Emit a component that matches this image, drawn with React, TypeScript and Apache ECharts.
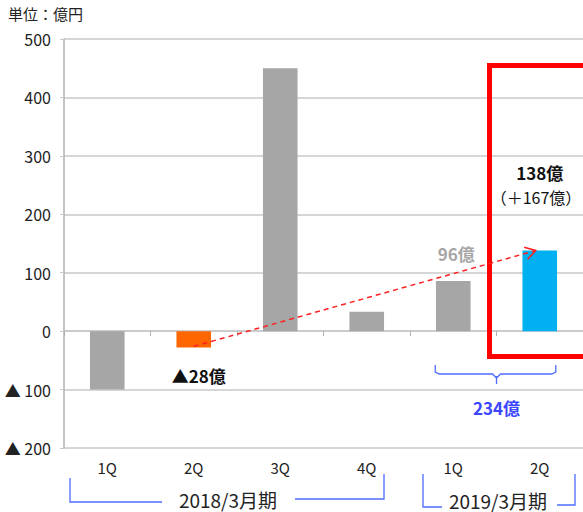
import React, { useEffect, useRef } from "react";
import * as echarts from "echarts";

const categories = ["1Q", "2Q", "3Q", "4Q", "1Q", "2Q"];
const values = [-100, -28, 450, 33, 86, 138];
const barColors = ["#a6a6a6", "#ff6600", "#a6a6a6", "#a6a6a6", "#a6a6a6", "#00b0f0"];
const yTicks = { min: -200, max: 500, interval: 100 };
const unitLabel = "単位：億円";
const fyLabels = ["2018/3月期", "2019/3月期"];
const noteTexts = { q2Loss: "▲28億", prev: "96億", current: "138億", diff: "（＋167億）", half: "234億" };

const FONT = "'Noto Sans CJK JP', 'Noto Sans', sans-serif";
const BLUE = "#4f6cff";
const BLUE_TEXT = "#3a46ff";

export default function App() {
  const ref = useRef<HTMLDivElement>(null);
  useEffect(() => {
    const chart = echarts.init(ref.current!, null, { renderer: "svg" });
    const option: any = {
      animation: false,
      textStyle: { fontFamily: FONT },
      grid: { left: 64, right: -1, top: 39, bottom: 64 },
      xAxis: [
        {
          type: "category",
          data: categories,
          position: "bottom",
          axisLine: { show: false, onZero: false },
          axisTick: { show: false },
          axisLabel: { color: "#222", fontSize: 15, margin: 12, fontFamily: FONT },
        },
        {
          type: "category",
          data: categories,
          position: "bottom",
          axisLine: { show: true, onZero: true, lineStyle: { color: "#c8c8c8", width: 1.5 } },
          axisTick: { show: true, length: 5, lineStyle: { color: "#b0b0b0" } },
          axisLabel: { show: false },
        },
      ],
      yAxis: {
        type: "value",
        min: yTicks.min,
        max: yTicks.max,
        interval: yTicks.interval,
        axisLine: { show: true, lineStyle: { color: "#b0b0b0", width: 1.5 } },
        axisTick: { show: true, length: 4, lineStyle: { color: "#c8c8c8" } },
        splitLine: { lineStyle: { color: "#c8c8c8", width: 1.5 } },
        axisLabel: {
          color: "#222",
          fontSize: 16,
          margin: 13,
          fontFamily: FONT,
          formatter: (v: number) => (v < 0 ? "▲ " + Math.abs(v) : String(v)),
        },
      },
      series: [
        {
          type: "bar",
          xAxisIndex: 0,
          barWidth: "40%",
          z: 2,
          data: values.map((v, i) => ({ value: v, itemStyle: { color: barColors[i] } })),
        },
      ],
    };
    chart.setOption(option);

    const px = (ci: number, v: number) =>
      chart.convertToPixel({ xAxisIndex: 0, yAxisIndex: 0 }, [ci, v]) as number[];

    const start = px(1, -26);
    const endRaw = px(5, 138);
    const end = [endRaw[0] - 4, endRaw[1]];
    const ang = Math.atan2(end[1] - start[1], end[0] - start[0]);
    const ah = 12;
    const a1 = [end[0] - ah * Math.cos(ang - 0.55), end[1] - ah * Math.sin(ang - 0.55)];
    const a2 = [end[0] - ah * Math.cos(ang + 0.55), end[1] - ah * Math.sin(ang + 0.55)];

    const p2q = px(1, -28);
    const p96 = px(4, 86);
    const p138 = px(5, 138);
    const c1 = px(4, 0);
    const c2 = px(5, 0);
    const braceL = c1[0] - 18;
    const braceR = c2[0] + 16;
    const braceMid = (c1[0] + c2[0]) / 2;

    const blueLine = { stroke: BLUE, lineWidth: 1.3, fill: "none" };
    const Z = 100;

    chart.setOption({
      graphic: [
        { type: "text", z: Z, left: 8, top: 6, style: { text: unitLabel, fontSize: 15, fill: "#222", fontFamily: FONT } },
        {
          type: "rect",
          z: Z,
          shape: { x: 489.5, y: 65.5, width: 120, height: 291 },
          style: { fill: "none", stroke: "#ff0000", lineWidth: 5 },
        },
        {
          type: "line",
          z: Z,
          shape: { x1: start[0], y1: start[1], x2: end[0], y2: end[1] },
          style: { stroke: "#ff2020", lineWidth: 1.5, lineDash: [5, 4] },
        },
        {
          type: "polyline",
          z: Z,
          shape: { points: [a1, end, a2] },
          style: { stroke: "#ff2020", lineWidth: 1.5, fill: "none" },
        },
        {
          type: "text",
          z: Z,
          x: p2q[0] + 5,
          y: p2q[1] + 28,
          style: { text: noteTexts.q2Loss, fontSize: 17, fontWeight: "bold", fill: "#111", align: "center", verticalAlign: "middle", fontFamily: FONT },
        },
        {
          type: "text",
          z: Z,
          x: p96[0] + 3,
          y: 253,
          style: { text: noteTexts.prev, fontSize: 17, fontWeight: "bold", fill: "#a6a6a6", align: "center", verticalAlign: "middle", fontFamily: FONT },
        },
        {
          type: "text",
          z: Z,
          x: p138[0],
          y: 172,
          style: { text: noteTexts.current, fontSize: 17, fontWeight: "bold", fill: "#111", align: "center", verticalAlign: "middle", fontFamily: FONT },
        },
        {
          type: "text",
          z: Z,
          x: 536,
          y: 197,
          style: { text: noteTexts.diff, fontSize: 16, fill: "#111", align: "center", verticalAlign: "middle", fontFamily: FONT },
        },
        {
          type: "polyline",
          z: Z,
          shape: {
            points: [
              [braceL, 365],
              [braceL, 372],
              [braceL + 4, 374],
              [braceMid - 4, 374],
              [braceMid, 378],
              [braceMid + 4, 374],
              [braceR - 4, 374],
              [braceR, 372],
              [braceR, 365],
            ],
          },
          style: blueLine,
        },
        {
          type: "line",
          z: Z,
          shape: { x1: braceMid, y1: 376, x2: braceMid, y2: 384 },
          style: blueLine,
        },
        {
          type: "text",
          z: Z,
          x: braceMid,
          y: 407,
          style: { text: noteTexts.half, fontSize: 17, fontWeight: "bold", fill: BLUE_TEXT, align: "center", verticalAlign: "middle", fontFamily: FONT },
        },
        {
          type: "polyline",
          z: Z,
          shape: { points: [[70, 478], [70, 502], [162, 502]] },
          style: blueLine,
        },
        {
          type: "polyline",
          z: Z,
          shape: { points: [[295, 499], [384, 499], [384, 474]] },
          style: blueLine,
        },
        {
          type: "text",
          z: Z,
          x: 228,
          y: 499,
          style: { text: fyLabels[0], fontSize: 19, fill: "#222", align: "center", verticalAlign: "middle", fontFamily: FONT },
        },
        {
          type: "polyline",
          z: Z,
          shape: { points: [[423, 474], [423, 507], [442, 507]] },
          style: blueLine,
        },
        {
          type: "polyline",
          z: Z,
          shape: { points: [[557, 505], [575, 505], [575, 474]] },
          style: blueLine,
        },
        {
          type: "text",
          z: Z,
          x: 498,
          y: 500,
          style: { text: fyLabels[1], fontSize: 19, fill: "#222", align: "center", verticalAlign: "middle", fontFamily: FONT },
        },
      ],
    });

    return () => chart.dispose();
  }, []);
  return <div ref={ref} style={{ width: 583, height: 512, position: "absolute", left: 0, top: 0 }} />;
}
